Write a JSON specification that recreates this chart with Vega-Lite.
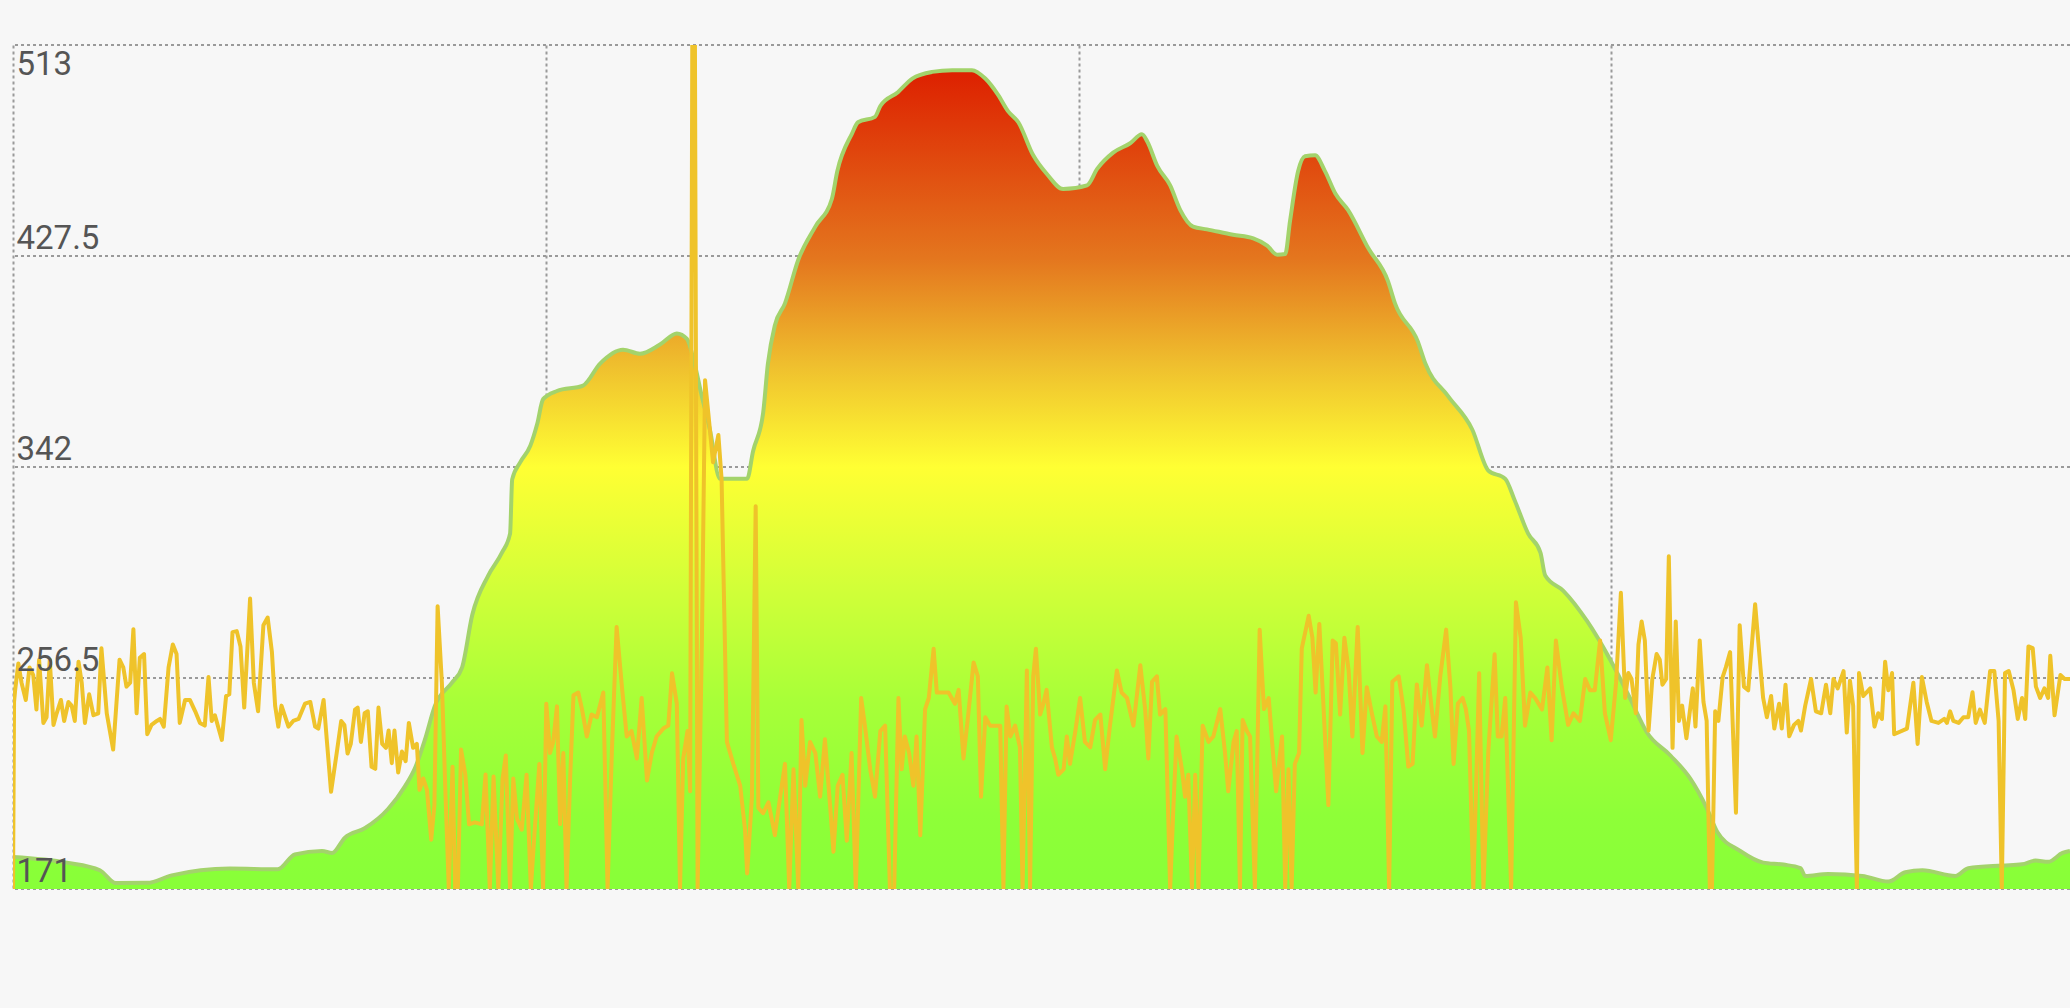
{
  "$schema": "https://vega.github.io/schema/vega-lite/v6.json",
  "width": 2057,
  "height": 844,
  "autosize": "none",
  "padding": {"left": 13, "top": 45, "right": 0, "bottom": 119},
  "background": "#f7f7f7",
  "config": {"view": {"stroke": null}, "font": "Roboto"},
  "datasets": {
    "grid": [{"g": 171}, {"g": 256.5}, {"g": 342}, {"g": 427.5}, {"g": 513}],
    "elev": [
      {"d":0,"e":184},{"d":101,"e":181.7},{"d":163,"e":178.6},{"d":193,"e":173.4},{"d":252,"e":173.5},{"d":298,"e":176.5},{"d":407,"e":179.3},{"d":497,"e":179},{"d":529,"e":185},{"d":580,"e":186.4},{"d":599,"e":185.6},{"d":623,"e":191.8},{"d":661,"e":195.7},{"d":704,"e":203.4},{"d":736,"e":212.7},{"d":755,"e":220.2},{"d":773,"e":231.4},{"d":792,"e":245.3},{"d":824,"e":254.6},{"d":843,"e":260.8},{"d":862,"e":282},{"d":892,"e":298},{"d":918,"e":307.4},{"d":933,"e":315},{"d":937,"e":337},{"d":952,"e":343.9},{"d":971,"e":350.6},{"d":984,"e":359.5},{"d":995,"e":369.5},{"d":1021,"e":372.8},{"d":1070,"e":375},{"d":1102,"e":383.9},{"d":1145,"e":389.5},{"d":1177,"e":387.9},{"d":1215,"e":391.7},{"d":1246,"e":396.1},{"d":1265,"e":393.9},{"d":1277,"e":386},{"d":1293,"e":370.6},{"d":1308,"e":357.2},{"d":1327,"e":337.2},{"d":1378,"e":337.2},{"d":1389,"e":348.3},{"d":1408,"e":363.9},{"d":1417,"e":383.9},{"d":1430,"e":399.4},{"d":1449,"e":408.3},{"d":1474,"e":426},{"d":1506,"e":439.4},{"d":1537,"e":450.6},{"d":1547,"e":461.7},{"d":1575,"e":477.2},{"d":1586,"e":481.7},{"d":1618,"e":483.9},{"d":1628,"e":488.3},{"d":1661,"e":493.9},{"d":1688,"e":499.4},{"d":1725,"e":502.1},{"d":1763,"e":502.8},{"d":1800,"e":502.8},{"d":1825,"e":499.4},{"d":1849,"e":492.8},{"d":1868,"e":486.1},{"d":1887,"e":481.7},{"d":1915,"e":468.3},{"d":1941,"e":460.6},{"d":1971,"e":454.6},{"d":2016,"e":456.1},{"d":2035,"e":462.8},{"d":2065,"e":469.4},{"d":2097,"e":473.2},{"d":2119,"e":476.8},{"d":2129,"e":473.9},{"d":2148,"e":463.9},{"d":2172,"e":456.1},{"d":2191,"e":446.1},{"d":2215,"e":439.4},{"d":2241,"e":438.3},{"d":2290,"e":436.1},{"d":2328,"e":434.6},{"d":2354,"e":431.7},{"d":2373,"e":428},{"d":2388,"e":428.3},{"d":2397,"e":441.7},{"d":2412,"e":461.7},{"d":2425,"e":467.9},{"d":2444,"e":468.3},{"d":2463,"e":461.7},{"d":2482,"e":452.8},{"d":2506,"e":446.1},{"d":2544,"e":430.6},{"d":2581,"e":417.2},{"d":2594,"e":408.3},{"d":2637,"e":392.8},{"d":2651,"e":383.9},{"d":2694,"e":370.6},{"d":2739,"e":357.2},{"d":2769,"e":340.6},{"d":2801,"e":337.2},{"d":2819,"e":328.3},{"d":2844,"e":315},{"d":2867,"e":307.3},{"d":2876,"e":298},{"d":2910,"e":291.8},{"d":2955,"e":279.4},{"d":2998,"e":263.9},{"d":3035,"e":248.4},{"d":3067,"e":234.4},{"d":3111,"e":225.1},{"d":3148,"e":215.8},{"d":3180,"e":203.4},{"d":3199,"e":194.1},{"d":3242,"e":186.4},{"d":3285,"e":181.7},{"d":3323,"e":180.9},{"d":3355,"e":179.5},{"d":3364,"e":176.3},{"d":3407,"e":177.1},{"d":3471,"e":176.3},{"d":3520,"e":174},{"d":3552,"e":177.8},{"d":3584,"e":178.6},{"d":3646,"e":176.3},{"d":3670,"e":179.4},{"d":3734,"e":180.5},{"d":3771,"e":181},{"d":3796,"e":182.5},{"d":3820,"e":182},{"d":3847,"e":185.6},{"d":3861,"e":186.4}
    ],
    "line": [
      {"d":0,"v":171},{"d":2,"v":246.8},{"d":4,"v":251.5},{"d":10,"v":262.4},{"d":16,"v":254.6},{"d":24,"v":247.6},{"d":31,"v":260.8},{"d":38,"v":257.7},{"d":44,"v":243.7},{"d":49,"v":263.9},{"d":57,"v":238.3},{"d":63,"v":240.6},{"d":69,"v":263.9},{"d":76,"v":237.5},{"d":82,"v":242.2},{"d":90,"v":247.6},{"d":96,"v":239.1},{"d":104,"v":246.8},{"d":110,"v":245.3},{"d":116,"v":239.1},{"d":123,"v":263.1},{"d":129,"v":254.6},{"d":135,"v":238.3},{"d":143,"v":249.9},{"d":151,"v":241.4},{"d":160,"v":242.2},{"d":166,"v":268.6},{"d":176,"v":242.2},{"d":188,"v":227.5},{"d":200,"v":263.9},{"d":207,"v":260.8},{"d":213,"v":253},{"d":220,"v":254.6},{"d":226,"v":276.3},{"d":232,"v":242.2},{"d":238,"v":264.7},{"d":246,"v":266.2},{"d":252,"v":233.7},{"d":260,"v":237.5},{"d":270,"v":239.1},{"d":276,"v":239.9},{"d":283,"v":236.8},{"d":292,"v":260.8},{"d":300,"v":270.1},{"d":307,"v":266.2},{"d":313,"v":238.3},{"d":323,"v":247.6},{"d":332,"v":247.6},{"d":342,"v":243},{"d":351,"v":238.3},{"d":360,"v":237.2},{"d":367,"v":256.9},{"d":373,"v":239.1},{"d":379,"v":241.4},{"d":392,"v":231.4},{"d":400,"v":249.2},{"d":406,"v":249.9},{"d":412,"v":275.1},{"d":420,"v":275.5},{"d":427,"v":269.3},{"d":434,"v":244.5},{"d":445,"v":288.7},{"d":452,"v":254.6},{"d":460,"v":243},
      {"d":470,"v":277.9},{"d":478,"v":281},{"d":486,"v":267},{"d":492,"v":245.3},{"d":498,"v":236.8},{"d":504,"v":245.3},{"d":517,"v":236.8},{"d":526,"v":239.1},{"d":536,"v":239.9},{"d":548,"v":246.1},{"d":558,"v":246.8},{"d":567,"v":236.8},{"d":573,"v":236},{"d":583,"v":247.6},{"d":589,"v":231.4},{"d":597,"v":210.4},{"d":608,"v":226.7},{"d":616,"v":239.1},{"d":622,"v":237.5},{"d":628,"v":225.9},{"d":634,"v":229.8},{"d":642,"v":243.7},{"d":647,"v":244.5},{"d":653,"v":230.6},{"d":660,"v":242.2},{"d":666,"v":243},{"d":673,"v":220.5},{"d":680,"v":219.7},{"d":686,"v":244.5},{"d":693,"v":229.8},{"d":700,"v":228.2},{"d":705,"v":235.2},{"d":711,"v":222},{"d":716,"v":235.2},{"d":723,"v":218.2},{"d":730,"v":226.7},{"d":737,"v":222.8},{"d":743,"v":238.3},{"d":751,"v":228.2},{"d":758,"v":229.8},{"d":763,"v":211.2},{"d":770,"v":215.8},{"d":777,"v":211.2},{"d":785,"v":191},{"d":791,"v":205},{"d":797,"v":285.6},{"d":805,"v":254.6},{"d":812,"v":208.1},{"d":818,"v":171},{"d":825,"v":220.5},{"d":830,"v":171},{"d":835,"v":171},{"d":841,"v":227.5},{"d":849,"v":217.4},{"d":856,"v":197.2},{"d":867,"v":198},{"d":880,"v":197.2},{"d":887,"v":217.4},{"d":895,"v":171},{"d":902,"v":216.6},{"d":911,"v":171},{"d":919,"v":215.8},{"d":925,"v":225.1},{"d":933,"v":171},{"d":939,"v":215.8},
      {"d":946,"v":199.5},{"d":955,"v":195},{"d":964,"v":217.3},{"d":972,"v":171},{"d":980,"v":197.3},{"d":988,"v":221.7},{"d":995,"v":171},{"d":1001,"v":246.1},{"d":1008,"v":226.1},{"d":1014,"v":230.6},{"d":1021,"v":245},{"d":1027,"v":197.3},{"d":1033,"v":226.1},{"d":1039,"v":171},{"d":1046,"v":217.3},{"d":1052,"v":249.5},{"d":1061,"v":250.6},{"d":1068,"v":243.9},{"d":1077,"v":232.8},{"d":1086,"v":241.7},{"d":1096,"v":240.6},{"d":1108,"v":250.6},{"d":1116,"v":171},{"d":1124,"v":226.1},{"d":1133,"v":277.2},{"d":1143,"v":252.8},{"d":1152,"v":232.8},{"d":1161,"v":235},{"d":1171,"v":223.9},{"d":1180,"v":248.4},{"d":1190,"v":215},{"d":1199,"v":226.1},{"d":1208,"v":232.8},{"d":1221,"v":236.1},{"d":1230,"v":237.2},{"d":1237,"v":258.4},{"d":1246,"v":246.1},{"d":1252,"v":171},{"d":1258,"v":223.9},{"d":1266,"v":235},{"d":1271,"v":210.6},{"d":1275,"v":513},{"d":1280,"v":513},{"d":1285,"v":171},{"d":1293,"v":270.6},{"d":1299,"v":377.2},{"d":1307,"v":359.5},{"d":1314,"v":343.9},{"d":1324,"v":355},{"d":1330,"v":337.2},{"d":1340,"v":230.6},{"d":1352,"v":221.7},{"d":1365,"v":212.8},{"d":1374,"v":195},{"d":1378,"v":177.3},{"d":1387,"v":208.4},{"d":1394,"v":326.1},{"d":1399,"v":203.9},{"d":1408,"v":201.7},{"d":1418,"v":206.1},
      {"d":1430,"v":192.8},{"d":1440,"v":208.4},{"d":1449,"v":221.7},{"d":1457,"v":171},{"d":1465,"v":219.5},{"d":1474,"v":171},{"d":1480,"v":239.5},{"d":1487,"v":212.8},{"d":1496,"v":230.6},{"d":1506,"v":226.1},{"d":1515,"v":208.4},{"d":1524,"v":231.7},{"d":1534,"v":203.9},{"d":1540,"v":186.1},{"d":1548,"v":212.8},{"d":1557,"v":217.3},{"d":1565,"v":190.6},{"d":1574,"v":226.1},{"d":1582,"v":171},{"d":1592,"v":248.4},{"d":1599,"v":237.2},{"d":1609,"v":219.5},{"d":1618,"v":208.4},{"d":1628,"v":235},{"d":1637,"v":237.2},{"d":1646,"v":171},{"d":1654,"v":171},{"d":1662,"v":248.4},{"d":1668,"v":219.5},{"d":1674,"v":232.8},{"d":1682,"v":226.1},{"d":1690,"v":212.8},{"d":1696,"v":232.8},{"d":1703,"v":192.8},{"d":1712,"v":243.9},{"d":1719,"v":248.4},{"d":1728,"v":268.4},{"d":1734,"v":250.6},{"d":1743,"v":250.6},{"d":1756,"v":250.6},{"d":1768,"v":246.1},{"d":1775,"v":251.7},{"d":1784,"v":223.9},{"d":1793,"v":241.7},{"d":1803,"v":262.8},{"d":1811,"v":257.2},{"d":1817,"v":208.4},{"d":1825,"v":240.6},{"d":1834,"v":237.2},{"d":1843,"v":237.2},{"d":1853,"v":237.2},{"d":1859,"v":171},{"d":1865,"v":245},{"d":1872,"v":232.8},{"d":1881,"v":237.2},{"d":1890,"v":228.4},{"d":1895,"v":171},
      {"d":1903,"v":259.5},{"d":1909,"v":171},{"d":1915,"v":257.2},{"d":1920,"v":268.4},{"d":1928,"v":241.7},{"d":1934,"v":246.1},{"d":1940,"v":251.7},{"d":1950,"v":228.4},{"d":1956,"v":223.9},{"d":1962,"v":217.3},{"d":1972,"v":219.5},{"d":1978,"v":232.8},{"d":1984,"v":221.7},{"d":1994,"v":235},{"d":2003,"v":248.4},{"d":2012,"v":230.6},{"d":2022,"v":228.4},{"d":2031,"v":239.5},{"d":2041,"v":241.7},{"d":2050,"v":219.5},{"d":2059,"v":237.2},{"d":2072,"v":259.5},{"d":2081,"v":250.6},{"d":2091,"v":248.4},{"d":2103,"v":237.2},{"d":2116,"v":261.7},{"d":2125,"v":243.9},{"d":2131,"v":223.9},{"d":2138,"v":255},{"d":2147,"v":257.2},{"d":2153,"v":241.7},{"d":2163,"v":243.9},{"d":2172,"v":171},{"d":2178,"v":203.9},{"d":2184,"v":232.8},{"d":2194,"v":219.5},{"d":2200,"v":208.4},{"d":2206,"v":217.3},{"d":2213,"v":171},{"d":2219,"v":217.3},{"d":2225,"v":171},{"d":2233,"v":237.2},{"d":2244,"v":230.6},{"d":2253,"v":232.8},{"d":2266,"v":243.9},{"d":2275,"v":226.1},{"d":2281,"v":210.6},{"d":2291,"v":230.6},{"d":2297,"v":235},{"d":2303,"v":171},{"d":2308,"v":239.5},{"d":2316,"v":235},{"d":2322,"v":232.8},{"d":2331,"v":171},{"d":2340,"v":276.1},{"d":2348,"v":243.9},{"d":2357,"v":248.4},{"d":2365,"v":226.1},{"d":2371,"v":210.6},
      {"d":2375,"v":219.5},{"d":2382,"v":232.8},{"d":2388,"v":171},{"d":2394,"v":219.5},{"d":2400,"v":171},{"d":2406,"v":221.7},{"d":2414,"v":226.1},{"d":2419,"v":268.4},{"d":2432,"v":281.7},{"d":2439,"v":272.8},{"d":2445,"v":250.6},{"d":2452,"v":278.4},{"d":2459,"v":248.4},{"d":2469,"v":205},{"d":2477,"v":271.7},{"d":2483,"v":270.6},{"d":2491,"v":241.7},{"d":2499,"v":272.8},{"d":2507,"v":259.5},{"d":2514,"v":232.8},{"d":2524,"v":277.2},{"d":2533,"v":226.1},{"d":2541,"v":252.8},{"d":2551,"v":241.7},{"d":2560,"v":232.8},{"d":2569,"v":230.6},{"d":2576,"v":245},{"d":2583,"v":171},{"d":2589,"v":255},{"d":2601,"v":257.2},{"d":2610,"v":243.9},{"d":2619,"v":220.6},{"d":2627,"v":221.7},{"d":2635,"v":253.9},{"d":2644,"v":237.2},{"d":2654,"v":261.7},{"d":2663,"v":243.9},{"d":2669,"v":232.8},{"d":2679,"v":257.2},{"d":2690,"v":276.1},{"d":2698,"v":252.8},{"d":2704,"v":221.7},{"d":2712,"v":246.1},{"d":2721,"v":248.4},{"d":2727,"v":243.9},{"d":2733,"v":235},{"d":2741,"v":171},{"d":2752,"v":258.4},{"d":2760,"v":171},{"d":2769,"v":226.1},{"d":2781,"v":266.1},{"d":2787,"v":232.8},{"d":2794,"v":232.8},{"d":2801,"v":248.4},{"d":2812,"v":171},{"d":2821,"v":287.2},{"d":2830,"v":272.8},{"d":2838,"v":237.2},{"d":2848,"v":250.6},
      {"d":2857,"v":248.4},{"d":2870,"v":243.7},{"d":2880,"v":260.8},{"d":2888,"v":231.3},{"d":2896,"v":271.7},{"d":2907,"v":253},{"d":2919,"v":237.5},{"d":2929,"v":242.2},{"d":2941,"v":239.1},{"d":2951,"v":256.1},{"d":2960,"v":251.5},{"d":2969,"v":251.5},{"d":2979,"v":271.7},{"d":2988,"v":242.2},{"d":2999,"v":231.3},{"d":3009,"v":254.6},{"d":3018,"v":291},{"d":3026,"v":248.4},{"d":3032,"v":258.5},{"d":3038,"v":256.1},{"d":3046,"v":242.2},{"d":3051,"v":270.1},{"d":3057,"v":279.4},{"d":3063,"v":271.7},{"d":3070,"v":235.2},{"d":3077,"v":256.1},{"d":3085,"v":266.2},{"d":3091,"v":263.9},{"d":3096,"v":253.8},{"d":3103,"v":256.1},{"d":3108,"v":305.8},{"d":3115,"v":228.2},{"d":3121,"v":279.4},{"d":3127,"v":239.1},{"d":3133,"v":245.3},{"d":3141,"v":232.1},{"d":3147,"v":242.2},{"d":3153,"v":252.3},{"d":3158,"v":236.8},{"d":3166,"v":271.7},{"d":3173,"v":246.8},{"d":3179,"v":239.1},{"d":3185,"v":171},{"d":3189,"v":171},{"d":3195,"v":243},{"d":3201,"v":239.1},{"d":3209,"v":256.9},{"d":3215,"v":260.8},{"d":3223,"v":267},{"d":3234,"v":201.9},{"d":3241,"v":277.9},{"d":3249,"v":253},{"d":3257,"v":251.5},{"d":3270,"v":286.4},{"d":3280,"v":260.8},{"d":3285,"v":248.4},{"d":3292,"v":240.6},{"d":3300,"v":249.2},{"d":3306,"v":236},{"d":3315,"v":246.1},{"d":3320,"v":236},{"d":3327,"v":253.8},{"d":3334,"v":232.9},{"d":3343,"v":237.5},
      {"d":3351,"v":239.1},{"d":3356,"v":235.2},{"d":3364,"v":245.3},{"d":3375,"v":256.1},{"d":3384,"v":243},{"d":3394,"v":242.2},{"d":3403,"v":253.8},{"d":3411,"v":242.2},{"d":3417,"v":256.1},{"d":3425,"v":252.3},{"d":3436,"v":259.3},{"d":3442,"v":234.4},{"d":3448,"v":255.4},{"d":3454,"v":245.3},{"d":3461,"v":171},{"d":3465,"v":258.5},{"d":3473,"v":249.2},{"d":3486,"v":252.3},{"d":3494,"v":236.8},{"d":3501,"v":242.2},{"d":3508,"v":239.9},{"d":3514,"v":263.1},{"d":3520,"v":251.5},{"d":3527,"v":258.5},{"d":3531,"v":233.7},{"d":3555,"v":236},{"d":3567,"v":254.6},{"d":3575,"v":229.8},{"d":3583,"v":256.9},{"d":3592,"v":246.8},{"d":3601,"v":239.1},{"d":3614,"v":238.3},{"d":3625,"v":239.9},{"d":3630,"v":238.3},{"d":3636,"v":243},{"d":3642,"v":239.1},{"d":3652,"v":238.3},{"d":3661,"v":240.6},{"d":3670,"v":240.6},{"d":3678,"v":250.7},{"d":3684,"v":238.3},{"d":3692,"v":243.7},{"d":3701,"v":238.3},{"d":3711,"v":259.3},{"d":3719,"v":259.3},{"d":3727,"v":239.1},{"d":3733,"v":171},{"d":3739,"v":258.5},{"d":3746,"v":259.3},{"d":3755,"v":251.5},{"d":3763,"v":239.9},{"d":3771,"v":248.4},{"d":3777,"v":239.9},{"d":3783,"v":269.3},{"d":3791,"v":268.6},{"d":3797,"v":253},{"d":3805,"v":248.4},{"d":3813,"v":252.3},{"d":3820,"v":248.4},{"d":3824,"v":265.5},{"d":3832,"v":241.4},{"d":3843,"v":257.7},{"d":3851,"v":256.1},{"d":3861,"v":256.1}
    ]
  },
  "layer": [
    {
      "data": {"name": "grid"},
      "mark": {"type": "rule", "color": "#9a9a9a", "strokeWidth": 2, "strokeDash": [3, 3]},
      "encoding": {
        "y": {
          "field": "g", "type": "quantitative",
          "scale": {"domain": [171, 513], "nice": false, "zero": false},
          "axis": {
            "title": null, "values": [171, 256.5, 342, 427.5, 513], "labelExpr": "'' + datum.value", "grid": false, "ticks": false, "domain": false,
            "labelAlign": "left", "labelPadding": -3, "labelFontSize": 33, "labelFont": "Roboto", "labelColor": "#555555",
            "labelBaseline": {"condition": {"test": "datum.value >= 513", "value": "top"}, "value": "alphabetic"},
            "labelOffset": {"condition": {"test": "datum.value >= 513", "value": 3}, "value": -8},
            "zindex": 2
          }
        }
      }
    },
    {
      "data": {"name": "elev"},
      "mark": {
        "type": "area",
        "interpolate": "monotone",
        "color": {
          "gradient": "linear", "x1": 0, "y1": 0, "x2": 0, "y2": 1,
          "stops": [
            {"offset": 0, "color": "#dd2000"},
            {"offset": 0.23, "color": "#e4761e"},
            {"offset": 0.36, "color": "#efbf2e"},
            {"offset": 0.485, "color": "#ffff33"},
            {"offset": 0.63, "color": "#d2ff38"},
            {"offset": 0.77, "color": "#a8ff38"},
            {"offset": 0.91, "color": "#8eff38"},
            {"offset": 1, "color": "#88ff38"}
          ]
        }
      },
      "encoding": {
        "x": {
          "field": "d", "type": "quantitative",
          "scale": {"domain": [0, 3861], "nice": false, "zero": false},
          "axis": {"title": null, "values": [0, 1000, 2000, 3000], "labels": false, "ticks": false, "domain": false, "grid": true, "gridColor": "#9a9a9a", "gridDash": [3, 3], "gridWidth": 2, "zindex": 0}
        },
        "y": {"field": "e", "type": "quantitative"},
        "y2": {"datum": 171}
      }
    },
    {
      "data": {"name": "elev"},
      "mark": {"type": "line", "interpolate": "monotone", "color": "#a3d36b", "strokeWidth": 4, "strokeJoin": "round"},
      "encoding": {
        "x": {"field": "d", "type": "quantitative"},
        "y": {"field": "e", "type": "quantitative"}
      }
    },
    {
      "data": {"name": "line"},
      "mark": {"type": "line", "color": "#efc32a", "strokeWidth": 4, "strokeJoin": "round", "clip": true},
      "encoding": {
        "x": {"field": "d", "type": "quantitative"},
        "y": {"field": "v", "type": "quantitative"}
      }
    }
  ]
}
